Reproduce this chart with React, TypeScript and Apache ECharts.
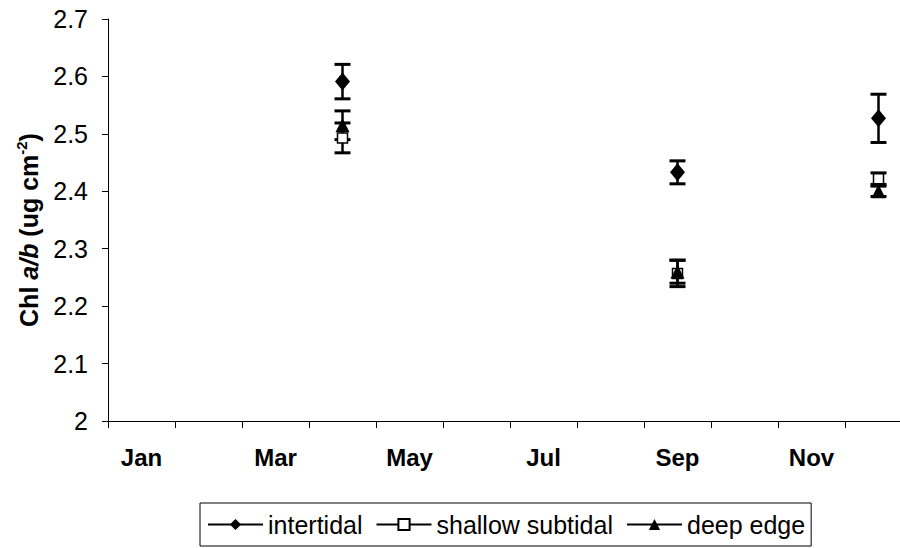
import React, { useEffect, useRef } from "react";
import * as echarts from "echarts";

// Months on the category axis; only every other one is labelled.
const months = ["Jan", "Feb", "Mar", "Apr", "May", "Jun", "Jul", "Aug", "Sep", "Oct", "Nov", "Dec"];
// Sampling months for the three sites.
const sampleMonths = ["Apr", "Sep", "Dec"];

// Chl a/b means and error (± half-range) per sampling month.
const intertidalMean = [2.591, 2.433, 2.527];
const intertidalErr = [0.03, 0.02, 0.042];
const shallowMean = [2.493, 2.257, 2.422];
const shallowErr = [0.026, 0.023, 0.01];
const deepMean = [2.515, 2.26, 2.4];
const deepErr = [0.025, 0.02, 0.009];

const yTicks = { min: 2, max: 2.7, interval: 0.1 };

const FONT = "'Liberation Sans', Arial, Helvetica, sans-serif";

function lineData(means: number[]) {
  return months.map((m) => {
    const k = sampleMonths.indexOf(m);
    return k >= 0 ? means[k] : "-";
  });
}

function barData(means: number[], errs: number[]) {
  return sampleMonths.map((m, k) => [months.indexOf(m), means[k] - errs[k], means[k] + errs[k]]);
}

function errorBarSeries(name: string, data: number[][]) {
  return {
    type: "custom",
    name,
    z: 1,
    encode: { x: 0, y: [1, 2] },
    data,
    renderItem: (params: any, api: any) => {
      const x = api.value(0);
      const lo = api.coord([x, api.value(1)]);
      const hi = api.coord([x, api.value(2)]);
      const half = 8;
      return {
        type: "group",
        children: [
          { type: "line", shape: { x1: lo[0], y1: lo[1], x2: hi[0], y2: hi[1] }, style: { stroke: "#000", lineWidth: 2.5 } },
          { type: "line", shape: { x1: hi[0] - half, y1: hi[1], x2: hi[0] + half, y2: hi[1] }, style: { stroke: "#000", lineWidth: 3 } },
          { type: "line", shape: { x1: lo[0] - half, y1: lo[1], x2: lo[0] + half, y2: lo[1] }, style: { stroke: "#000", lineWidth: 3 } },
        ],
      };
    },
  };
}

export default function App() {
  const ref = useRef<HTMLDivElement>(null);

  useEffect(() => {
    if (!ref.current) return;
    const chart = echarts.init(ref.current, null, { renderer: "svg" });
    chart.setOption({
      animation: false,
      backgroundColor: "#fff",
      textStyle: { fontFamily: FONT, color: "#000" },
      // the December band runs past the right edge of the visible page
      grid: { left: 108, top: 19, height: 402, right: 0 },
      xAxis: {
        type: "category",
        data: months,
        boundaryGap: true,
        axisLine: { lineStyle: { color: "#000", width: 1 } },
        axisTick: { show: true, interval: 0, length: 7, lineStyle: { color: "#000" } },
        axisLabel: {
          interval: 1,
          margin: 24,
          fontSize: 24,
          fontWeight: "bold",
          fontFamily: FONT,
          color: "#000",
        },
        splitLine: { show: false },
      },
      yAxis: {
        type: "value",
        min: yTicks.min,
        max: yTicks.max,
        interval: yTicks.interval,
        axisLine: { show: true, lineStyle: { color: "#000", width: 1 } },
        axisTick: { show: true, length: 6, lineStyle: { color: "#000" } },
        axisLabel: {
          margin: 20,
          fontSize: 25,
          fontFamily: FONT,
          color: "#000",
          formatter: (v: number) => String(+v.toFixed(1)),
        },
        splitLine: { show: false },
      },
      graphic: [
        {
          type: "text",
          x: 29,
          y: 230,
          rotation: Math.PI / 2,
          style: {
            text: "{b|Chl }{i|a/b}{b| (ug cm}{s|-2}{b|)}",
            align: "center",
            verticalAlign: "middle",
            fill: "#000",
            rich: {
              b: { fontSize: 25, fontWeight: "bold", fontFamily: FONT, lineHeight: 30, fill: "#000" },
              i: { fontSize: 25, fontWeight: "bold", fontStyle: "italic", fontFamily: FONT, lineHeight: 30, fill: "#000" },
              s: { fontSize: 15, fontWeight: "bold", fontFamily: FONT, lineHeight: 15, verticalAlign: "top", fill: "#000" },
            },
          },
        },
      ],
      legend: {
        data: ["intertidal", "shallow subtidal", "deep edge"],
        left: 200,
        top: 503,
        orient: "horizontal",
        itemWidth: 55,
        itemHeight: 14,
        itemGap: 13,
        padding: [9, 6, 9, 7],
        borderColor: "#000",
        borderWidth: 1,
        borderRadius: 0,
        textStyle: { fontSize: 25, fontFamily: FONT, color: "#000" },
      },
      series: [
        errorBarSeries("intertidal err", barData(intertidalMean, intertidalErr)),
        errorBarSeries("shallow err", barData(shallowMean, shallowErr)),
        errorBarSeries("deep err", barData(deepMean, deepErr)),
        {
          type: "line",
          name: "intertidal",
          z: 3,
          data: lineData(intertidalMean),
          connectNulls: false,
          showAllSymbol: true,
          symbol: "diamond",
          symbolSize: [15, 18],
          lineStyle: { color: "#000", width: 2 },
          itemStyle: { color: "#000" },
        },
        {
          type: "line",
          name: "shallow subtidal",
          z: 3,
          data: lineData(shallowMean),
          connectNulls: false,
          showAllSymbol: true,
          symbol: "rect",
          symbolSize: 10,
          lineStyle: { color: "#000", width: 2 },
          itemStyle: { color: "#fff", borderColor: "#000", borderWidth: 1.5 },
        },
        {
          type: "line",
          name: "deep edge",
          z: 4,
          data: lineData(deepMean),
          connectNulls: false,
          showAllSymbol: true,
          symbol: "triangle",
          symbolSize: 14,
          lineStyle: { color: "#000", width: 2 },
          itemStyle: { color: "#000" },
        },
      ],
    });
    return () => chart.dispose();
  }, []);

  return (
    <div
      ref={ref}
      style={{ position: "fixed", left: 0, top: 0, width: 912, height: 548, background: "#fff" }}
    />
  );
}
